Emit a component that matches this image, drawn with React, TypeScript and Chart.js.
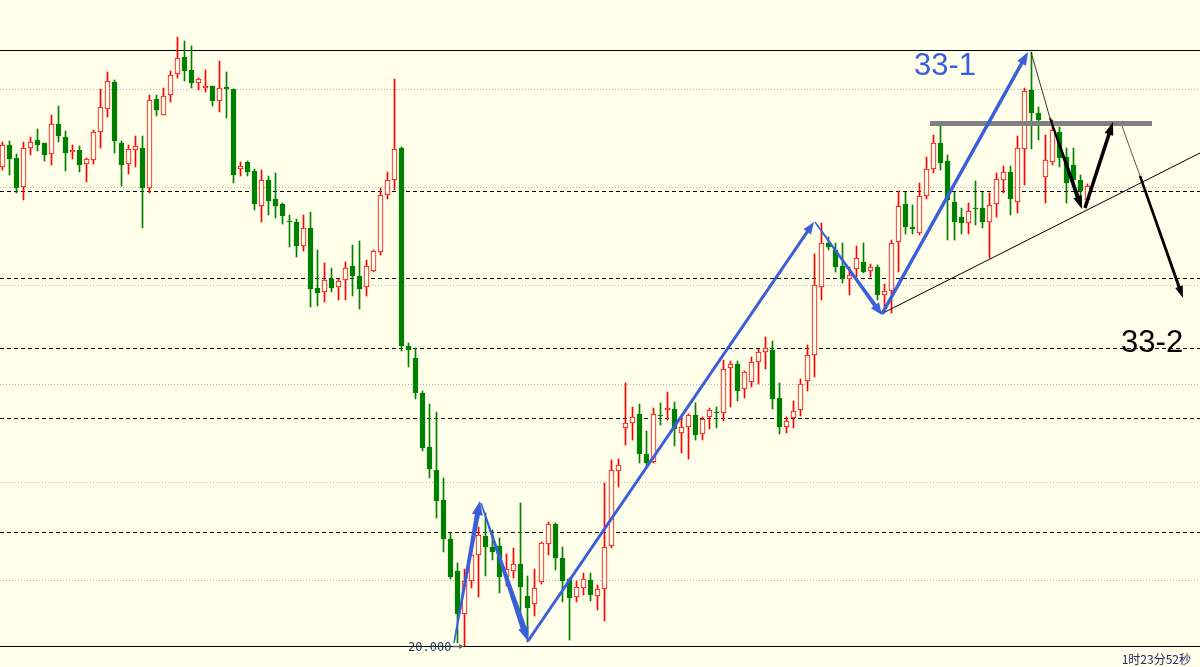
import React, { useEffect, useRef } from "react";
import { Chart, registerables } from "chart.js";

Chart.register(...registerables);

// ---------- data (price units) ----------
const opens = [
  24.79, 25.01, 24.88, 24.59, 24.98, 25.06, 25.03, 24.92, 25.22, 25.09,
  24.94, 24.96, 24.82, 24.86, 25.14, 25.37, 25.64, 25.03, 24.82, 24.96,
  24.98, 24.58, 25.47, 25.31, 25.51, 25.72, 25.89, 25.76, 25.63, 25.58,
  25.60, 25.45, 25.59, 25.57, 24.77, 24.84, 24.75, 24.40, 24.66, 24.47,
  24.42, 24.25, 24.24, 24.00, 24.18, 23.58, 23.54, 23.67, 23.59, 23.66,
  23.80, 23.70, 23.59, 23.75, 23.94, 24.51, 24.66, 24.98, 23.00, 22.88,
  22.53, 21.99, 21.76, 21.46, 21.07, 20.75, 20.32, 20.65, 20.91, 21.10,
  20.99, 21.00, 20.69, 20.75, 20.82, 20.50, 20.42, 20.64, 21.02, 21.22,
  20.88, 20.67, 20.49, 20.58, 20.66, 20.50, 20.57, 21.00, 21.75, 22.18,
  22.23, 22.32, 21.92, 21.84, 22.31, 22.36, 22.37, 22.13, 22.19, 22.31,
  22.12, 22.29, 22.34, 22.33, 22.78, 22.82, 22.57, 22.64, 22.84, 22.94,
  22.96, 22.48, 22.19, 22.28, 22.36, 22.65, 22.91, 23.59, 24.03, 23.96,
  23.80, 23.67, 23.77, 23.84, 23.75, 23.79, 23.51, 23.55, 24.04, 24.42,
  24.19, 24.13, 24.50, 24.77, 25.03, 24.85, 24.44, 24.29, 24.23, 24.38,
  24.38, 24.24, 24.42, 24.66, 24.74, 24.44, 24.97, 25.56, 25.33, 24.69,
  24.84, 25.14, 24.89, 24.81, 24.66, 24.46,
];
const highs = [
  25.04, 25.05, 24.92, 25.04, 25.09, 25.17, 25.03, 25.31, 25.40, 25.15,
  25.01, 25.00, 24.88, 25.16, 25.57, 25.74, 25.66, 25.05, 25.01, 25.10,
  25.10, 25.51, 25.51, 25.58, 25.75, 26.09, 26.05, 26.00, 25.68, 25.76,
  25.60, 25.85, 25.74, 25.57, 24.84, 24.85, 24.77, 24.76, 24.70, 24.73,
  24.43, 24.31, 24.27, 24.31, 24.34, 23.96, 23.83, 23.78, 23.67, 23.84,
  24.01, 24.05, 23.86, 23.96, 24.58, 24.74, 25.67, 24.99, 23.03, 22.98,
  22.55, 22.42, 22.34, 21.68, 21.13, 20.83, 20.77, 21.03, 21.19, 21.33,
  21.16, 21.08, 20.92, 20.98, 21.43, 20.70, 20.77, 21.04, 21.24, 21.23,
  20.99, 20.68, 20.65, 20.73, 20.73, 20.61, 21.63, 21.86, 21.87, 22.63,
  22.39, 22.42, 22.15, 22.38, 22.43, 22.54, 22.44, 22.28, 22.32, 22.43,
  22.29, 22.38, 22.39, 22.86, 22.85, 22.85, 22.75, 22.89, 22.97, 23.09,
  23.05, 22.63, 22.29, 22.45, 22.67, 23.01, 23.92, 24.23, 24.09, 24.03,
  24.03, 23.79, 24.00, 24.03, 23.82, 23.81, 23.62, 24.06, 24.55, 24.54,
  24.41, 24.63, 24.89, 25.11, 25.20, 24.91, 24.54, 24.38, 24.43, 24.65,
  24.54, 24.53, 24.73, 24.80, 24.80, 25.10, 25.58, 25.94, 25.39, 25.11,
  25.26, 25.19, 24.98, 24.98, 24.71, 24.62,
];
const lows = [
  24.76, 24.71, 24.53, 24.46, 24.91, 24.95, 24.85, 24.81, 25.04, 24.75,
  24.87, 24.74, 24.64, 24.82, 24.98, 25.29, 24.93, 24.60, 24.72, 24.79,
  24.18, 24.53, 25.30, 25.31, 25.44, 25.68, 25.65, 25.58, 25.56, 25.54,
  25.40, 25.34, 25.28, 24.63, 24.70, 24.70, 24.36, 24.24, 24.31, 24.28,
  24.22, 23.99, 23.89, 23.95, 23.39, 23.40, 23.44, 23.54, 23.46, 23.46,
  23.50, 23.37, 23.50, 23.74, 23.91, 24.47, 24.56, 22.95, 22.79, 22.47,
  21.95, 21.68, 21.28, 20.94, 20.67, 20.03, 20.00, 20.58, 20.49, 20.70,
  20.86, 20.53, 20.60, 20.68, 20.24, 20.04, 20.30, 20.62, 20.91, 20.76,
  20.44, 20.06, 20.44, 20.51, 20.45, 20.36, 20.25, 20.98, 21.59, 22.01,
  22.06, 21.83, 21.79, 21.83, 22.21, 22.26, 22.00, 21.93, 21.87, 22.06,
  22.06, 22.17, 22.18, 22.25, 22.39, 22.45, 22.48, 22.59, 22.62, 22.77,
  22.37, 22.12, 22.13, 22.18, 22.30, 22.55, 22.69, 23.46, 23.96, 23.74,
  23.63, 23.51, 23.69, 23.73, 23.69, 23.46, 23.33, 23.33, 23.74, 24.12,
  24.12, 24.11, 24.47, 24.73, 24.76, 24.06, 24.06, 24.12, 24.12, 24.21,
  24.18, 23.88, 24.29, 24.53, 24.31, 24.33, 24.61, 24.97, 25.06, 24.43,
  24.81, 24.79, 24.43, 24.63, 24.48, 24.44,
];
const closes = [
  25.01, 24.87, 24.58, 24.98, 25.04, 25.01, 24.91, 25.22, 25.10, 24.93,
  24.96, 24.81, 24.87, 25.14, 25.39, 25.65, 25.05, 24.81, 24.97, 25.00,
  24.58, 25.46, 25.36, 25.50, 25.71, 25.88, 25.75, 25.63, 25.67, 25.60,
  25.45, 25.58, 25.57, 24.71, 24.80, 24.74, 24.42, 24.66, 24.45, 24.40,
  24.30, 24.24, 24.00, 24.18, 23.57, 23.53, 23.66, 23.58, 23.65, 23.78,
  23.70, 23.57, 23.80, 23.95, 24.51, 24.66, 24.97, 23.00, 22.96, 22.53,
  21.98, 21.77, 21.45, 21.07, 20.69, 20.32, 20.65, 20.91, 21.11, 20.99,
  20.94, 20.69, 20.77, 20.82, 20.59, 20.38, 20.58, 21.03, 21.22, 20.88,
  20.65, 20.48, 20.59, 20.67, 20.51, 20.57, 20.99, 21.76, 21.81, 22.23,
  22.29, 21.92, 21.83, 22.32, 22.30, 22.38, 22.17, 22.19, 22.31, 22.11,
  22.27, 22.36, 22.33, 22.77, 22.82, 22.55, 22.74, 22.84, 22.94, 22.98,
  22.47, 22.19, 22.25, 22.35, 22.62, 22.91, 23.61, 24.03, 23.99, 23.79,
  23.67, 23.71, 23.88, 23.74, 23.79, 23.51, 23.55, 24.03, 24.40, 24.19,
  24.17, 24.50, 24.77, 25.03, 24.83, 24.46, 24.24, 24.23, 24.35, 24.37,
  24.24, 24.41, 24.67, 24.74, 24.47, 24.98, 25.55, 25.33, 25.26, 24.86,
  25.16, 24.88, 24.63, 24.66, 24.55, 24.60,
];

// horizontal levels
const gridLevels = [25.565, 24.585, 23.605, 22.615, 21.635, 20.655];
const dashedLevels = [24.545, 23.675, 22.975, 22.275, 21.135];
const solidLevels = [25.955, 19.995];
const lowLabel = "20.000";
const lowLabelValue = 19.995;

// drawn wave lines: [index, price] end points
const waveA1 = [[64.5, 20.03], [68.2, 21.45]];
const waveA2 = [[68.36, 21.43], [75.07, 20.05]];
const waveA3 = [[75.07, 20.05], [115.93, 24.24]];
const waveA4 = [[116.07, 24.24], [125.64, 23.31]];
const waveA5 = [[125.64, 23.32], [146.5, 25.94]];
const waveB1 = [[146.93, 25.94], [149.64, 25.28]];
const waveB2 = [[149.64, 25.28], [154.21, 24.37]];
const waveB3 = [[154.64, 24.38], [158.64, 25.24]];
const waveB4 = [[159.93, 25.2], [162.5, 24.7]];
const waveB5 = [[162.5, 24.7], [168.64, 23.48]];
const trendLine = [[125.79, 23.33], [171.07, 24.93]];
const resistLine = [[132.5, 25.225], [164.21, 25.225]];
const lowArrow = [[64.36, 19.995], [65.93, 19.995]];

const labels = [
  { text: "33-1", at: [130.2, 25.71] },
  { text: "33-2", at: [159.8, 22.94] },
];
const timeText = "1时23分52秒";

// ---------- styles / layout ----------
const BG = "#FFFFEA";
const UP = "#FF0000";
const DOWN = "#008000";
const BLUE = "#3B5FD9";
const X_MIN = -2.5 / 7;
const X_MAX = (1200 - 2.5) / 7;
const Y_MIN = 19.79;
const Y_MAX = 26.46;

const toPts = (a: number[][]) => a.map(([x, y]) => ({ x, y }));

const arrowPlugin = {
  id: "taperArrows",
  afterDatasetsDraw(chart: any) {
    const ctx = chart.ctx;
    chart.data.datasets.forEach((ds: any, di: number) => {
      const a = ds.arrow;
      if (!a) return;
      const pts = chart.getDatasetMeta(di).data;
      if (!pts || pts.length < 2) return;
      const x0 = pts[0].x, y0 = pts[0].y;
      const x1 = pts[pts.length - 1].x, y1 = pts[pts.length - 1].y;
      const dx = x1 - x0, dy = y1 - y0;
      const len = Math.hypot(dx, dy);
      const ux = dx / len, uy = dy / len;
      const nx = -uy, ny = ux;
      const bx = x1 - ux * a.head, by = y1 - uy * a.head;
      ctx.save();
      ctx.fillStyle = a.color;
      ctx.beginPath();
      ctx.moveTo(x0 + (nx * a.w0) / 2, y0 + (ny * a.w0) / 2);
      ctx.lineTo(bx + (nx * a.w1) / 2, by + (ny * a.w1) / 2);
      if (a.head > 0) {
        ctx.lineTo(bx + (nx * a.headW) / 2, by + (ny * a.headW) / 2);
        ctx.lineTo(x1, y1);
        ctx.lineTo(bx - (nx * a.headW) / 2, by - (ny * a.headW) / 2);
      }
      ctx.lineTo(bx - (nx * a.w1) / 2, by - (ny * a.w1) / 2);
      ctx.lineTo(x0 - (nx * a.w0) / 2, y0 - (ny * a.w0) / 2);
      ctx.closePath();
      ctx.fill();
      ctx.restore();
    });
  },
};

const textPlugin = {
  id: "texts",
  afterDraw(chart: any) {
    const ctx = chart.ctx;
    const xs = chart.scales.x, ys = chart.scales.y;
    ctx.save();
    ctx.textAlign = "left";
    ctx.textBaseline = "alphabetic";
    ctx.font = '31px "Liberation Sans", Arial, sans-serif';
    labels.forEach((l, i) => {
      ctx.fillStyle = i === 0 ? BLUE : "#000000";
      ctx.fillText(l.text, xs.getPixelForValue(l.at[0]), ys.getPixelForValue(l.at[1]));
    });
    // low label
    ctx.font = '12px "DejaVu Sans Mono", monospace';
    ctx.fillStyle = "#1B2E55";
    ctx.textBaseline = "middle";
    ctx.fillText(lowLabel, xs.getPixelForValue(57.93), ys.getPixelForValue(lowLabelValue) + 1);
    // time text
    ctx.font = '12px "Noto Sans CJK SC", sans-serif';
    ctx.fillStyle = "#1B2A66";
    ctx.textAlign = "right";
    ctx.textBaseline = "alphabetic";
    ctx.fillText(timeText, chart.chartArea.right - 9, chart.chartArea.bottom - 3);
    ctx.restore();
  },
};

function hLine(v: number, color: string, dash: number[], order: number) {
  return {
    type: "line",
    data: [{ x: X_MIN, y: v }, { x: X_MAX, y: v }],
    borderColor: color,
    borderWidth: 1,
    borderDash: dash,
    pointRadius: 0,
    order,
  };
}

function seg(points: number[][], color: string, width: number, order = 5) {
  return {
    type: "line",
    data: toPts(points),
    borderColor: color,
    borderWidth: width,
    pointRadius: 0,
    order,
  };
}

function arrowSeg(points: number[][], arrow: any) {
  return {
    type: "line",
    data: toPts(points),
    showLine: false,
    pointRadius: 0,
    order: 1,
    arrow,
  };
}

export default function App() {
  const ref = useRef<HTMLCanvasElement | null>(null);

  useEffect(() => {
    if (!ref.current) return;
    const up = opens.map((o, i) => closes[i] > o);
    const wickData = opens.map((_, i) => ({ x: i, y: [lows[i], highs[i]] }));
    const bodyData = opens.map((o, i) => ({ x: i, y: [o, closes[i]] }));

    const datasets: any[] = [
      ...gridLevels.map((v) => hLine(v, "#B4B4B4", [1, 2], 100)),
      ...dashedLevels.map((v) => hLine(v, "#000000", [4, 3], 90)),
      ...solidLevels.map((v) => hLine(v, "#000000", [], 90)),
      {
        type: "bar",
        data: wickData,
        backgroundColor: up.map((u) => (u ? UP : DOWN)),
        borderWidth: 0,
        barThickness: 1,
        grouped: false,
        order: 50,
      },
      {
        type: "bar",
        data: bodyData,
        backgroundColor: up.map((u) => (u ? BG : DOWN)),
        borderColor: up.map((u) => (u ? UP : DOWN)),
        borderWidth: 1,
        borderSkipped: false,
        barThickness: 5,
        grouped: false,
        order: 40,
      },
      seg(resistLine, "#808080", 5, 6),
      seg(trendLine, "#000000", 1, 5),
      seg(waveB1, "#333333", 1, 5),
      seg(waveB4, "#555555", 1, 5),
      arrowSeg(waveA1, { color: BLUE, w0: 1.5, w1: 5, head: 14, headW: 11 }),
      arrowSeg(waveA2, { color: BLUE, w0: 1.5, w1: 6, head: 14, headW: 11 }),
      arrowSeg(waveA3, { color: BLUE, w0: 3, w1: 3, head: 12, headW: 9 }),
      arrowSeg(waveA4, { color: BLUE, w0: 1.5, w1: 4, head: 12, headW: 10 }),
      arrowSeg(waveA5, { color: BLUE, w0: 3.5, w1: 3.5, head: 13, headW: 10 }),
      arrowSeg(waveB2, { color: "#000000", w0: 2, w1: 4, head: 13, headW: 9 }),
      arrowSeg(waveB3, { color: "#000000", w0: 3.5, w1: 3.5, head: 13, headW: 9 }),
      arrowSeg(waveB5, { color: "#000000", w0: 2.5, w1: 3, head: 12, headW: 8 }),
      arrowSeg(lowArrow, { color: "#666666", w0: 1.5, w1: 1.5, head: 5, headW: 5 }),
    ];

    const chart = new Chart(ref.current, {
      type: "bar",
      data: { datasets },
      options: {
        animation: false,
        responsive: false,
        devicePixelRatio: 1,
        events: [],
        layout: { padding: 0 },
        plugins: { legend: { display: false }, tooltip: { enabled: false } },
        scales: {
          x: { type: "linear", min: X_MIN, max: X_MAX, offset: false, display: false },
          y: { type: "linear", min: Y_MIN, max: Y_MAX, display: false },
        },
      } as any,
      plugins: [arrowPlugin, textPlugin],
    } as any);
    return () => chart.destroy();
  }, []);

  return (
    <div style={{ position: "fixed", left: 0, top: 0, width: 1200, height: 667, background: BG }}>
      <canvas ref={ref} width={1200} height={667} style={{ display: "block" }} />
    </div>
  );
}
